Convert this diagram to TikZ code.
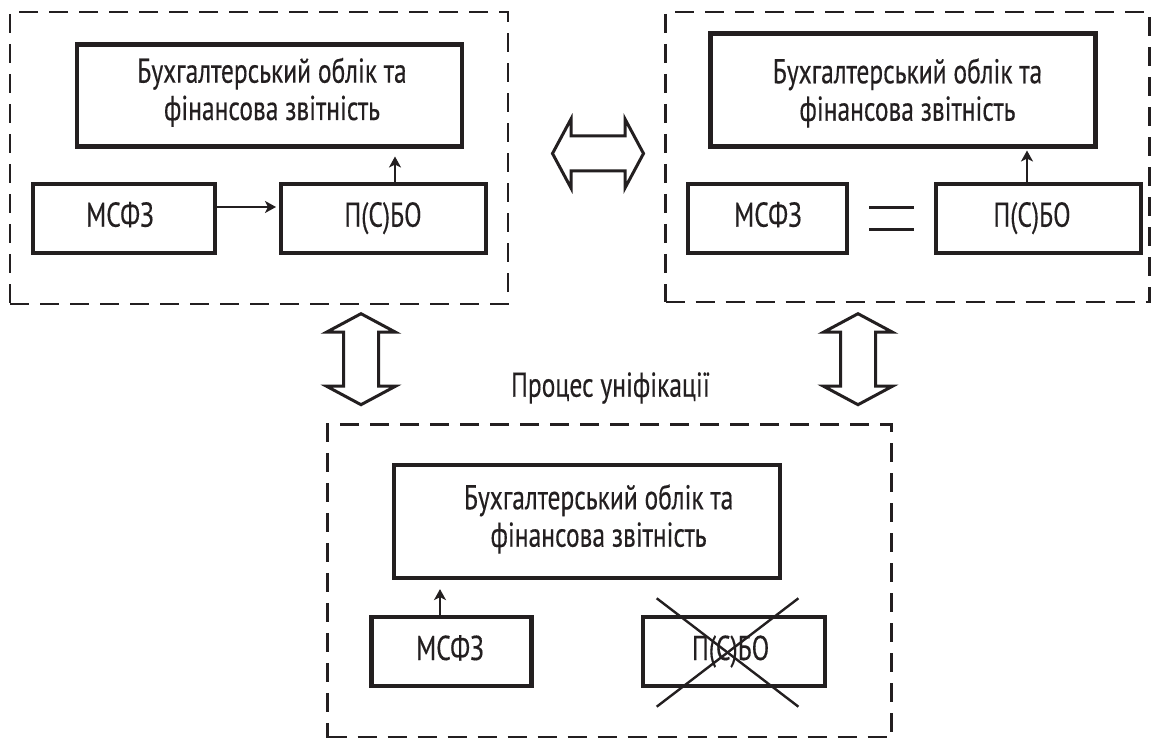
\documentclass[tikz,border=0pt]{standalone}
\usepackage{fontspec}
\setmainfont{PT Sans}[FakeStretch=0.74, FakeBold=0.3]
\usetikzlibrary{arrows.meta,calc}
\definecolor{ink}{RGB}{35,31,32}

\tikzset{
  panel/.style={draw=ink, line width=2.8pt, dash pattern=on 19pt off 11pt, inner sep=0pt, outer sep=0pt},
  box/.style={draw=ink, line width=4.2pt, inner sep=0pt, outer sep=0pt},
  txt/.style={text=ink, inner sep=0pt, anchor=base, font=\fontsize{34.5}{40}\selectfont},
  link/.style={draw=ink, line width=2.4pt, -{Stealth[length=11pt,width=12pt,inset=3pt]}},
  fat/.style={draw=ink, line width=3pt, line join=miter, fill=white},
  thinline/.style={draw=ink, line width=2.8pt},
  crossline/.style={draw=ink, line width=2.4pt},
  dblarrow/.pic={
    \draw[fat] (-45.5,0) -- (-27,-34.5) -- (-27,-17.5) -- (27,-17.5) -- (27,-34.5)
      -- (45.5,0) -- (27,34.5) -- (27,17.5) -- (-27,17.5) -- (-27,34.5) -- cycle;
  },
}

\begin{document}
\begin{tikzpicture}[x=1pt, y=-1pt]
\useasboundingbox (0,0) rectangle (1157,738);

% dashed panels
\node[panel, minimum width=498pt, minimum height=292pt] (left) at (259,158) {};
\node[panel, minimum width=484pt, minimum height=290pt] (right) at (907.5,157) {};
\node[panel, minimum width=564pt, minimum height=313.5pt] (bottom) at (609.5,581) {};

% left panel
\node[box, minimum width=385pt, minimum height=102pt] (acc1) at (269.5,95.5) {};
\node[txt] (acc1a) at (272,82.7) {Бухгалтерський облік та};
\node[txt] (acc1b) at (272,120) {фінансова звітність};
\node[box, minimum width=182pt, minimum height=69pt] (ifrs1) at (123.8,218.5) {};
\node[txt] (ifrs1t) at (120,226.7) {МСФЗ};
\node[box, minimum width=205pt, minimum height=69pt] (nat1) at (383.5,218.5) {};
\node[txt] (nat1t) at (383,226.7) {П(С)БО};
\draw[link, shorten >=5pt] ([yshift=11.5pt]ifrs1.east) -- ([yshift=11.5pt]ifrs1.east -| nat1.west);
\draw[link, shorten >=10pt] ([xshift=11.5pt]nat1.north) -- ([xshift=11.5pt]nat1.north |- acc1.south);

% right panel
\node[box, minimum width=385pt, minimum height=113pt] (acc2) at (903,90) {};
\node[txt] (acc2a) at (907.5,83.3) {Бухгалтерський облік та};
\node[txt] (acc2b) at (907.5,120.7) {фінансова звітність};
\node[box, minimum width=159pt, minimum height=69pt] (ifrs2) at (767.3,218.5) {};
\node[txt] (ifrs2t) at (768,226.7) {МСФЗ};
\node[box, minimum width=205pt, minimum height=69pt] (nat2) at (1038.7,218.5) {};
\node[txt] (nat2t) at (1032,226.7) {П(С)БО};
\coordinate (eq) at ($(ifrs2.east)!0.5!(nat2.west)$);
\draw[thinline] ([shift={(-22.5,-11.3)}]eq) -- ([shift={(22.5,-11.3)}]eq);
\draw[thinline] ([shift={(-22.5,11.3)}]eq) -- ([shift={(22.5,11.3)}]eq);
\draw[link, shorten >=4pt] ([xshift=-11.7pt]nat2.north) -- ([xshift=-11.7pt]nat2.north |- acc2.south);

% bottom panel
\node[box, minimum width=386pt, minimum height=113pt] (acc3) at (587,521.6) {};
\node[txt] (acc3a) at (598.6,509.3) {Бухгалтерський облік та};
\node[txt] (acc3b) at (598.6,546.7) {фінансова звітність};
\node[box, minimum width=160pt, minimum height=69pt] (ifrs3) at (451.5,651.5) {};
\node[txt] (ifrs3t) at (450,660) {МСФЗ};
\node[box, minimum width=182pt, minimum height=69pt] (nat3) at (734,651.5) {};
\node[txt] (nat3t) at (730.6,660) {П(С)БО};
\draw[crossline] ([shift={(-77.3,-53.2)}]nat3.center) -- ([shift={(64.4,55.2)}]nat3.center);
\draw[crossline] ([shift={(64.4,-53.2)}]nat3.center) -- ([shift={(-77.3,55.2)}]nat3.center);
\draw[link, shorten >=11pt] ([xshift=-11.5pt]ifrs3.north) -- ([xshift=-11.5pt]ifrs3.north |- acc3.south);

% exchange between the panels
\pic at (598,153.5) {dblarrow};
\pic[rotate=90] at (361,359.2) {dblarrow};
\pic[rotate=90] at (858,359.2) {dblarrow};
\node[txt] (unif) at (610.5,396.7) {Процес уніфікації};
\end{tikzpicture}
\end{document}
